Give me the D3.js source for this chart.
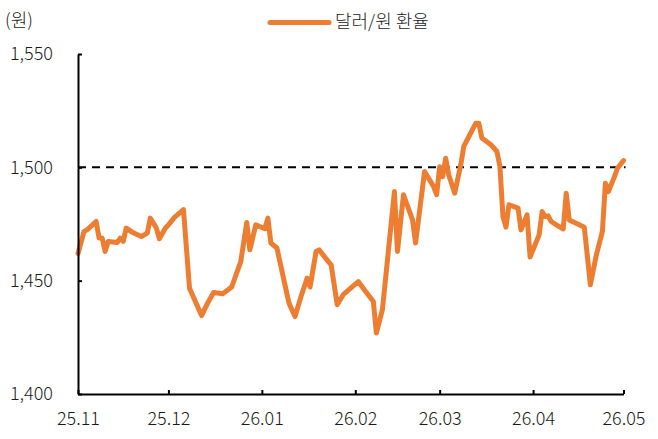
<!DOCTYPE html>
<html>
<head>
<meta charset="utf-8">
<script src="https://cdn.jsdelivr.net/npm/d3@7"></script>
<style>
  html, body { margin: 0; padding: 0; background: #fff; }
  svg text { font-family: "Noto Sans CJK KR", "Noto Sans", sans-serif; font-weight: 300; fill: #1a1a1a; }
</style>
</head>
<body>
<svg id="chart" width="658" height="439"></svg>
<script>
const seriesName = "달러/원 환율";
const unitLabel = "(원)";
const dates = [
  "2025-11-01","2025-11-03","2025-11-04","2025-11-07","2025-11-08","2025-11-09","2025-11-10","2025-11-11",
  "2025-11-14","2025-11-15","2025-11-16","2025-11-17","2025-11-19","2025-11-22","2025-11-24","2025-11-25",
  "2025-11-27","2025-11-28","2025-11-30","2025-12-01","2025-12-03","2025-12-06","2025-12-08","2025-12-12",
  "2025-12-14","2025-12-16","2025-12-19","2025-12-22","2025-12-25","2025-12-27","2025-12-28","2025-12-30",
  "2026-01-02","2026-01-03","2026-01-04","2026-01-06","2026-01-10","2026-01-12","2026-01-14","2026-01-16",
  "2026-01-17","2026-01-19","2026-01-20","2026-01-23","2026-01-24","2026-01-26","2026-01-28","2026-02-02",
  "2026-02-04","2026-02-07","2026-02-08","2026-02-10","2026-02-14","2026-02-15","2026-02-17","2026-02-20",
  "2026-02-21","2026-02-24","2026-02-27","2026-02-28","2026-03-01","2026-03-02","2026-03-03","2026-03-04",
  "2026-03-06","2026-03-08","2026-03-09","2026-03-13","2026-03-14","2026-03-15","2026-03-18","2026-03-20",
  "2026-03-21","2026-03-22","2026-03-23","2026-03-24","2026-03-27","2026-03-28","2026-03-30","2026-03-31",
  "2026-04-03","2026-04-04","2026-04-05","2026-04-06","2026-04-07","2026-04-09","2026-04-11","2026-04-12",
  "2026-04-13","2026-04-17","2026-04-18","2026-04-20","2026-04-22","2026-04-24","2026-04-25","2026-04-26",
  "2026-04-28","2026-04-29","2026-05-01"
];
const rates = [
  1462.0,1471.7,1472.4,1476.1,1468.8,1468.8,1462.9,1467.3,
  1466.8,1468.8,1467.3,1473.2,1471.4,1469.5,1471.0,1477.6,
  1473.2,1468.5,1473.2,1474.6,1477.9,1481.3,1446.7,1434.6,
  1440.1,1444.8,1444.2,1447.2,1458.4,1475.7,1463.6,1474.6,
  1472.9,1477.6,1466.6,1464.4,1440.1,1434.2,1443.0,1451.1,
  1447.2,1462.9,1463.6,1458.5,1457.0,1439.4,1443.8,1449.6,
  1446.0,1440.8,1426.9,1437.2,1489.3,1462.9,1487.9,1476.8,
  1466.6,1498.2,1491.5,1487.9,1500.3,1495.9,1504.0,1496.7,
  1488.6,1501.1,1509.2,1519.5,1519.5,1512.9,1510.0,1507.0,
  1500.4,1478.3,1473.6,1483.5,1482.0,1472.4,1479.0,1460.4,
  1470.2,1480.5,1478.3,1478.6,1476.1,1474.4,1472.8,1488.6,
  1476.8,1474.2,1473.6,1448.2,1461.4,1471.7,1493.0,1489.3,
  1495.9,1499.6,1503.0
];
const xTickDates = ["2025-11-01","2025-12-01","2026-01-01","2026-02-01","2026-03-01","2026-04-01","2026-05-01"];
const xTickLabels = ["25.11","25.12","26.01","26.02","26.03","26.04","26.05"];
const yTickValues = [1400, 1450, 1500, 1550];
const yTickLabels = ["1,400","1,450","1,500","1,550"];
const referenceLevel = 1500;

const parse = d3.timeParse("%Y-%m-%d");
const data = dates.map((d, i) => ({ date: parse(d), value: rates[i] }));
const xTicks = xTickDates.map(parse);

const svg = d3.select("#chart");
const plotLeft = 78, plotRight = 623.5, plotTop = 54, plotBottom = 394;

const x = d3.scaleTime().domain([xTicks[0], xTicks[xTicks.length - 1]]).range([plotLeft, plotRight]);
const y = d3.scaleLinear().domain([1400, 1550]).range([plotBottom, plotTop]);

// reference dashed line
svg.append("line")
  .attr("x1", plotLeft).attr("x2", plotRight + 2)
  .attr("y1", y(referenceLevel)).attr("y2", y(referenceLevel))
  .attr("stroke", "#000").attr("stroke-width", 2)
  .attr("stroke-dasharray", "8,6");

// line
const line = d3.line().x(d => x(d.date)).y(d => y(d.value));
svg.append("path")
  .datum(data)
  .attr("d", line)
  .attr("fill", "none")
  .attr("stroke", "#ED7D31")
  .attr("stroke-width", 5)
  .attr("stroke-linejoin", "round")
  .attr("stroke-linecap", "round");

// y axis
const yAxis = d3.axisLeft(y)
  .tickValues(yTickValues)
  .tickFormat((d, i) => yTickLabels[i])
  .tickSizeInner(-4).tickSizeOuter(0).tickPadding(25);
const gy = svg.append("g").attr("transform", `translate(${plotLeft},0)`).call(yAxis);
gy.select(".domain").attr("stroke", "#000").attr("stroke-width", 2);
gy.selectAll(".tick line").attr("stroke", "#000").attr("stroke-width", 2);
gy.selectAll("text").attr("font-size", 18).attr("fill", "#1a1a1a");

// x axis
const xAxis = d3.axisBottom(x)
  .tickValues(xTicks)
  .tickFormat((d, i) => xTickLabels[i])
  .tickSizeInner(-4).tickSizeOuter(0).tickPadding(18);
const gx = svg.append("g").attr("transform", `translate(0,${plotBottom})`).call(xAxis);
gx.select(".domain").attr("stroke", "#000").attr("stroke-width", 2);
gx.selectAll(".tick line").attr("stroke", "#000").attr("stroke-width", 2);
gx.selectAll("text").attr("font-size", 18).attr("fill", "#1a1a1a");

// unit label
svg.append("text").attr("x", 5).attr("y", 27).attr("font-size", 18).text(unitLabel);

// legend
svg.append("line").attr("x1", 270).attr("x2", 329).attr("y1", 22.5).attr("y2", 22.5)
  .attr("stroke", "#ED7D31").attr("stroke-width", 5).attr("stroke-linecap", "round");
svg.append("text").attr("x", 335).attr("y", 28).attr("font-size", 18).text(seriesName);
</script>
</body>
</html>
